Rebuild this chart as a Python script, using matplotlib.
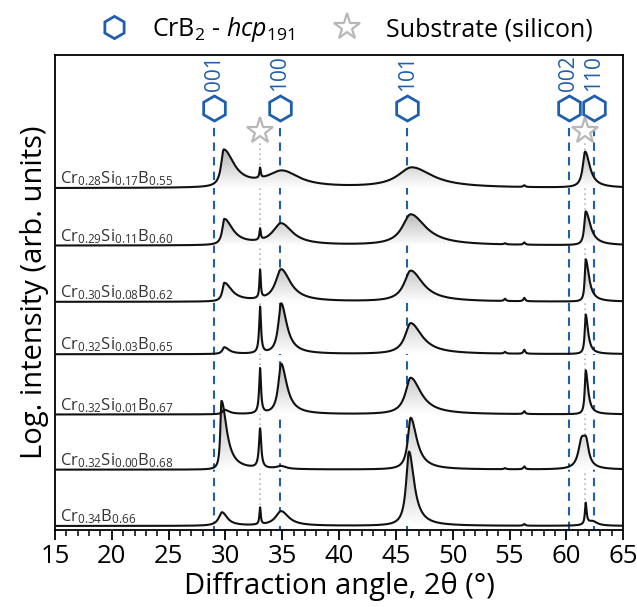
import numpy as np
import matplotlib
matplotlib.use("Agg")
import matplotlib.pyplot as plt
from matplotlib.lines import Line2D
from matplotlib.colors import LinearSegmentedColormap

plt.rcParams['font.family'] = ['Open Sans', 'DejaVu Sans']
plt.rcParams['mathtext.fontset'] = 'custom'
plt.rcParams['mathtext.rm'] = 'Open Sans'
plt.rcParams['mathtext.it'] = 'Open Sans:italic'

# sample labels, top to bottom
labels = [
    r"Cr$_{0.28}$Si$_{0.17}$B$_{0.55}$",
    r"Cr$_{0.29}$Si$_{0.11}$B$_{0.60}$",
    r"Cr$_{0.30}$Si$_{0.08}$B$_{0.62}$",
    r"Cr$_{0.32}$Si$_{0.03}$B$_{0.65}$",
    r"Cr$_{0.32}$Si$_{0.01}$B$_{0.67}$",
    r"Cr$_{0.32}$Si$_{0.00}$B$_{0.68}$",
    r"Cr$_{0.34}$B$_{0.66}$",
]
baselines = [6.07, 5.05, 4.05, 3.12, 2.05, 1.07, 0.07]

# peaks: (2theta, height, left hwhm, right hwhm)
peaks = [
    [(29.85, 0.66, 0.28, 1.1), (33.05, 0.18, 0.07, 0.07), (35.0, 0.28, 1.6, 1.8),
     (46.4, 0.36, 1.5, 2.2), (56.3, 0.03, 0.1, 0.1), (61.65, 0.64, 0.25, 0.5)],
    [(29.9, 0.46, 0.22, 0.9), (33.05, 0.2, 0.07, 0.07), (34.9, 0.38, 0.9, 1.2),
     (46.3, 0.55, 0.9, 1.6), (54.6, 0.02, 0.1, 0.1), (56.3, 0.04, 0.1, 0.1),
     (61.7, 0.6, 0.15, 0.5)],
    [(29.9, 0.33, 0.2, 0.8), (33.05, 0.5, 0.07, 0.07), (34.9, 0.57, 0.6, 1.0),
     (46.3, 0.55, 0.7, 1.3), (54.6, 0.04, 0.1, 0.1), (56.3, 0.06, 0.1, 0.1),
     (61.7, 0.75, 0.1, 0.35)],
    [(29.9, 0.12, 0.2, 0.5), (33.05, 0.82, 0.1, 0.1), (34.9, 0.9, 0.3, 0.6),
     (46.3, 0.55, 0.6, 1.2), (54.6, 0.03, 0.1, 0.1), (56.3, 0.07, 0.1, 0.1),
     (61.7, 0.7, 0.1, 0.25)],
    [(29.9, 0.08, 0.2, 0.5), (33.05, 0.8, 0.1, 0.1), (34.9, 0.9, 0.3, 0.6),
     (46.3, 0.65, 0.55, 1.1), (56.3, 0.05, 0.1, 0.1), (61.7, 0.78, 0.1, 0.25)],
    [(29.65, 1.22, 0.12, 0.55), (33.05, 0.7, 0.12, 0.12), (34.9, 0.05, 0.5, 0.5),
     (46.3, 0.92, 0.3, 0.65), (54.6, 0.02, 0.1, 0.1), (56.3, 0.05, 0.1, 0.1),
     (61.35, 0.5, 0.35, 0.45), (61.75, 0.3, 0.25, 0.25)],
    [(29.7, 0.24, 0.35, 0.55), (33.05, 0.3, 0.07, 0.07), (34.9, 0.26, 0.6, 0.8),
     (46.15, 1.32, 0.3, 0.55), (56.3, 0.03, 0.1, 0.1), (61.7, 0.38, 0.08, 0.1),
     (62.3, 0.08, 0.5, 0.5)],
]

# reference reflections
crb2_pos = [29.0, 34.8, 46.0, 60.2, 62.4]
crb2_hkl = ["001", "100", "101", "002", "110"]
si_pos = [33.05, 61.6]

blue = "#1f5fae"
grey = "#b8b8b8"

tt = np.linspace(15, 65, 2500)


def profile(pk):
    y = np.zeros_like(tt)
    for p, h, wl, wr in pk:
        w = np.where(tt < p, wl, wr)
        y += h / (1 + ((tt - p) / w) ** 2)
    return y


fig = plt.figure(figsize=(6.37, 6.07), dpi=100)
ax = fig.add_axes([0.0863, 0.127, 0.892, 0.782])

grad = LinearSegmentedColormap.from_list("g", ["#ffffff", "#b5b5b5"])

for lab, base, pk in zip(labels, baselines, peaks):
    y = base + profile(pk)
    top = y.max()
    poly = ax.fill_between(tt, base, y, color="none", zorder=2)
    im = ax.imshow(np.linspace(0, 1, 100).reshape(-1, 1), cmap=grad, aspect="auto",
                   extent=[15, 65, base, top], origin="lower", zorder=2)
    im.set_clip_path(poly.get_paths()[0], transform=ax.transData)
    ax.plot(tt, y, color="#111111", lw=1.5, zorder=3)
    ax.text(15.4, base + 0.08, lab, fontsize=12, color="#333333", zorder=4)

for p, hkl in zip(crb2_pos, crb2_hkl):
    ax.plot([p, p], [0, 7.28], ls=(0, (4, 3)), color=blue, lw=1.5, zorder=1)
    ax.plot(p, 7.5, marker="h", ms=18, mfc="white", mec=blue, mew=2,
            ls="none", zorder=5)
    ax.text(p, 7.8, hkl, rotation=90, ha="center", va="bottom",
            fontsize=15, color=blue)

for p in si_pos:
    ax.plot([p, p], [0, 6.88], ls=(0, (1, 2)), color=grey, lw=1.2, zorder=1)
    ax.plot(p, 7.08, marker="*", ms=20, mfc="white", mec=grey, mew=1.6,
            ls="none", zorder=5)

ax.set_xlim(15, 65)
ax.set_ylim(0, 8.43)
ax.set_yticks([])
ax.set_xticks(np.arange(15, 66, 5))
ax.set_xticks(np.arange(15, 66, 1), minor=True)
ax.tick_params(axis="x", which="major", direction="out", length=7, width=1.3,
               labelsize=18.5, pad=3)
ax.tick_params(axis="x", which="minor", direction="out", length=4, width=1.1)
for s in ax.spines.values():
    s.set_linewidth(1.3)
ax.set_xlabel("Diffraction angle, 2θ (°)", fontsize=21, labelpad=2)
ax.set_ylabel("Log. intensity (arb. units)", fontsize=21, labelpad=4)

handles = [
    Line2D([], [], marker="h", ms=16, mfc="white", mec=blue, mew=2, ls="none"),
    Line2D([], [], marker="*", ms=20, mfc="white", mec=grey, mew=1.6, ls="none"),
]
fig.legend(handles, [r"CrB$_2$ - $hcp_{191}$", "Substrate (silicon)"],
           loc="upper center", bbox_to_anchor=(0.535, 1.012), ncol=2, frameon=False,
           fontsize=18, columnspacing=1.1, handletextpad=0.55)

fig.savefig("out.png", dpi=100)
